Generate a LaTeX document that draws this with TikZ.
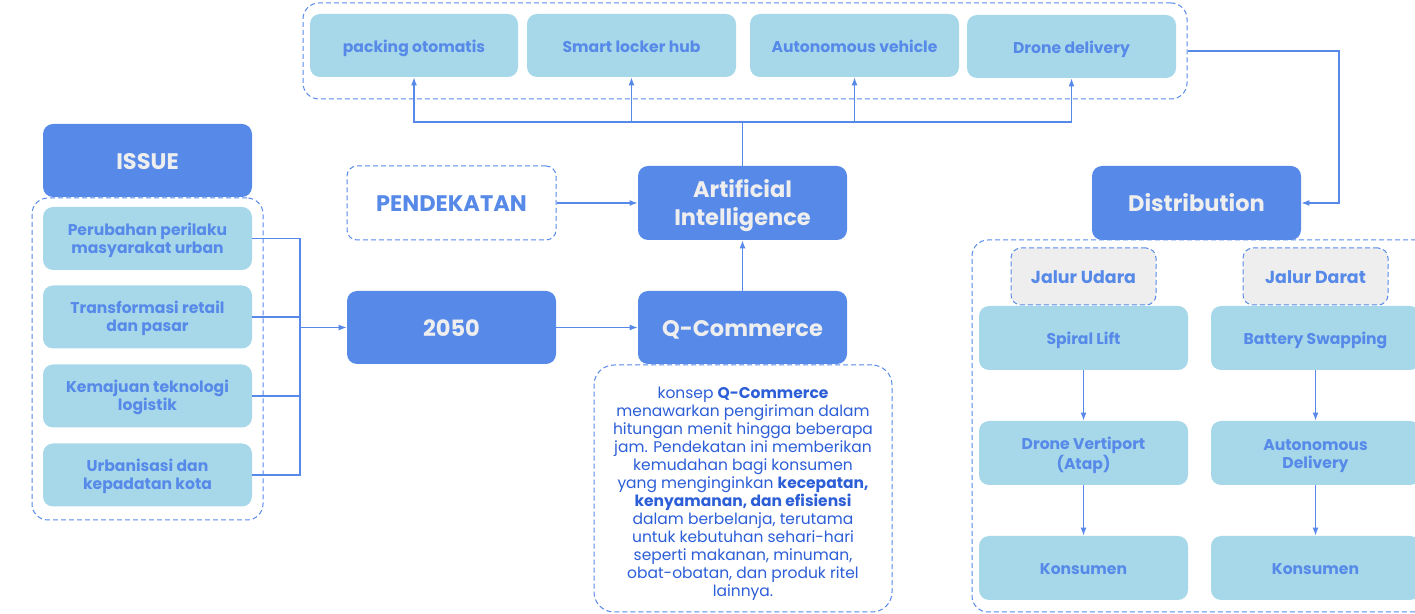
\documentclass[tikz,border=0pt]{standalone}
\usepackage{fontspec}
\setmainfont{Poppins}
\usetikzlibrary{arrows.meta}
\definecolor{dblue}{HTML}{578AE8}
\definecolor{lblue}{HTML}{A6D8EA}
\definecolor{txtlight}{HTML}{EEEEEE}
\definecolor{grayfill}{HTML}{EEEEEE}
\definecolor{bodyblue}{HTML}{2C5ED8}
\newsavebox\mlbox
\newcommand{\ml}[2][1.5pt]{\sbox\mlbox{\begin{tabular}{@{}c@{}}#2\end{tabular}}%
  \raisebox{-#1}[\ht\mlbox][\dp\mlbox]{\usebox\mlbox}}
\tikzset{
  sz/.style 2 args={minimum width=#1*0.5pt, minimum height=#2*0.5pt},
  dark/.style={fill=dblue, rounded corners=5pt, text=txtlight, inner sep=0pt,
    font=\bfseries\fontsize{11.25}{14}\selectfont},
  light/.style={fill=lblue, rounded corners=5pt, text=dblue, inner sep=0pt,
    font=\bfseries\fontsize{7.8}{9}\selectfont},
  dashbox/.style={draw=dblue, line width=0.5pt, dash pattern=on 2.5pt off 1.5pt, rounded corners=8pt},
  pendbox/.style={dashbox, fill=white, rounded corners=5pt, text=dblue, inner sep=0pt,
    font=\bfseries\fontsize{11.25}{14}\selectfont},
  jalur/.style={dashbox, fill=grayfill, rounded corners=5pt, text=dblue, inner sep=0pt,
    font=\bfseries\fontsize{8.7}{9}\selectfont},
  conn/.style={draw=dblue, line width=0.6pt},
  arr/.style={conn, -{Latex[length=4pt,width=3pt]}},
}
\begin{document}
\begin{tikzpicture}[x=0.5pt,y=-0.5pt]
\useasboundingbox (0,0) rectangle (1415,614);
% containers
\node[dashbox, sz={884}{96}] (topc) at (745,51) {};
\node[dashbox, sz={231}{322}] (issc) at (147.5,359) {};
\node[dashbox, sz={460}{372}] (distc) at (1202,426) {};
% ISSUE column
\node[dark, sz={209}{73}] (issue) at (147.5,160.5) {\ml{ISSUE}};
\node[light, sz={209}{63}] (i1) at (147.5,238.5) {\ml[1pt]{Perubahan perilaku\\masyarakat urban}};
\node[light, sz={209}{63}] (i2) at (147.5,317) {\ml[1pt]{Transformasi retail\\dan pasar}};
\node[light, sz={209}{63}] (i3) at (147.5,396) {\ml[1pt]{Kemajuan teknologi\\logistik}};
\node[light, sz={209}{63}] (i4) at (147.5,475) {\ml[1pt]{Urbanisasi dan\\kepadatan kota}};
% middle
\node[pendbox, sz={209}{74}] (pend) at (451.5,203) {\ml{PENDEKATAN}};
\node[dark, sz={209}{74}] (ai) at (742.5,203) {\ml{Artificial\\Intelligence}};
\node[dark, sz={209}{73}] (y2050) at (451.5,327.5) {\ml{2050}};
\node[dark, sz={209}{73}] (qc) at (742.5,327.5) {\ml{Q-Commerce}};
\node[dashbox, rounded corners=10pt, fill=white, sz={298}{247}, inner sep=0pt,
  text=bodyblue, font=\fontsize{7.75}{9}\selectfont] (desc) at (743,488.5)
 {\ml[2.5pt]{konsep \textbf{Q-Commerce}\\
  menawarkan pengiriman dalam\\
  hitungan menit hingga beberapa\\
  jam. Pendekatan ini memberikan\\
  kemudahan bagi konsumen\\
  yang menginginkan \textbf{kecepatan,}\\
  \textbf{kenyamanan, dan efisiensi}\\
  dalam berbelanja, terutama\\
  untuk kebutuhan sehari-hari\\
  seperti makanan, minuman,\\
  obat-obatan, dan produk ritel\\
  lainnya.}};
% top row
\node[light, sz={208}{63}] (t1) at (414,45.5) {\ml{packing otomatis}};
\node[light, sz={209}{63}] (t2) at (631.5,45.5) {\ml{Smart locker hub}};
\node[light, sz={209}{63}] (t3) at (854.5,45.5) {\ml{Autonomous vehicle}};
\node[light, sz={209}{63}] (t4) at (1071.5,46.5) {\ml{Drone delivery}};
% distribution
\node[dark, sz={209}{74}] (dist) at (1196.5,203) {\ml{Distribution}};
\node[jalur, sz={145}{57}] (ju) at (1083.5,276.5) {\ml{Jalur Udara}};
\node[jalur, sz={145}{57}] (jd) at (1315.5,276.5) {\ml{Jalur Darat}};
\node[light, sz={209}{64}] (sl) at (1083.5,338) {\ml{Spiral Lift}};
\node[light, sz={209}{64}] (bs) at (1315.5,338) {\ml{Battery Swapping}};
\node[light, sz={209}{64}] (dv) at (1083.5,453) {\ml{Drone Vertiport\\(Atap)}};
\node[light, sz={209}{64}] (ad) at (1315.5,453) {\ml{Autonomous\\Delivery}};
\node[light, sz={209}{64}] (k1) at (1083.5,568) {\ml{Konsumen}};
\node[light, sz={209}{64}] (k2) at (1315.5,568) {\ml{Konsumen}};
% connectors
\coordinate (jn) at (300,327.5);
\draw[conn] (i1.east) -| (jn);
\draw[conn] (i2.east) -| (jn);
\draw[conn] (i3.east) -| (jn);
\draw[conn] (i4.east) -| (jn);
\draw[arr] (jn) -- (y2050.west);
\draw[arr] (pend.east) -- (ai.west);
\draw[arr] (y2050.east) -- (qc.west);
\draw[arr] (qc.north) -- (ai.south);
\coordinate (tj) at (742.5,122);
\draw[conn] (ai.north) -- (tj);
\draw[arr] (tj) -| (t1.south);
\draw[arr] (tj) -| (t2.south);
\draw[arr] (tj) -| (t3.south);
\draw[arr] (tj) -| (t4.south);
\coordinate (rc) at (1339,203);
\draw[arr] (topc.east) -| (rc) -- (dist.east);
\draw[arr] (sl.south) -- (dv.north);
\draw[arr] (dv.south) -- (k1.north);
\draw[arr] (bs.south) -- (ad.north);
\draw[arr] (ad.south) -- (k2.north);
\end{tikzpicture}
\end{document}
